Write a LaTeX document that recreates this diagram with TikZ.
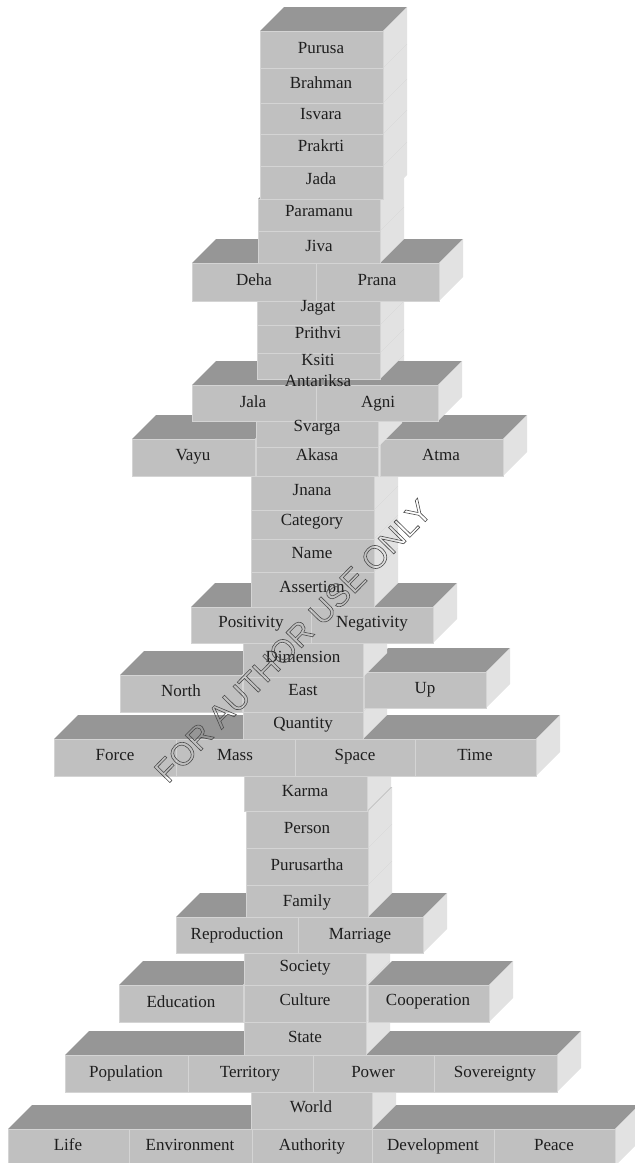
\documentclass[tikz,border=0pt]{standalone}
\usepackage{fontspec}
\setmainfont{Liberation Serif}
\newfontfamily\markfont{Liberation Sans}
\usepackage{tikz}

\definecolor{facefront}{RGB}{192,192,192}
\definecolor{facetop}{RGB}{150,150,150}
\definecolor{faceside}{RGB}{226,226,226}
\definecolor{faceedge}{RGB}{212,212,212}

% one 3D brick: front (x1,y1)-(x2,y2), top and right faces pushed back by 24
\newcommand{\brick}[4]{%
  \fill[topface] (#1,#2) -- (#1+24,#2-24) -- (#3+24,#2-24) -- (#3,#2) -- cycle;
  \fill[sideface] (#3,#2) -- (#3+24,#2-24) -- (#3+24,#4-24) -- (#3,#4) -- cycle;
  \draw[frontface] (#1,#2) rectangle (#3,#4);
}

\begin{document}
\begin{tikzpicture}[x=1pt,y=1pt,yscale=-1,
    topface/.style={fill=facetop},
    sideface/.style={fill=faceside},
    frontface/.style={fill=facefront,draw=faceedge,line width=0.8pt},
    divider/.style={draw=faceedge,line width=1pt},
    lbl/.style={inner sep=0pt,text height=0.66em,text depth=0pt,text={rgb,255:red,30;green,30;blue,30},
      font=\fontsize{17}{20}\selectfont},
    wmark/.style={inner sep=0pt,rotate=45.6,text={rgb,255:red,75;green,75;blue,75},
      font=\markfont\fontsize{32}{36}\selectfont}]
    \useasboundingbox (0,0) rectangle (635,1163);

    % painted from the bottom up, so upper bricks hide the faces behind them
    \brick{8}{1129}{615}{1166}
    \draw[divider] (129,1129) -- (129,1166);
    \draw[divider] (252,1129) -- (252,1166);
    \draw[divider] (372,1129) -- (372,1166);
    \draw[divider] (494,1129) -- (494,1166);
    \brick{251}{1092}{372}{1129}
    \brick{65}{1055}{557}{1092}
    \draw[divider] (188,1055) -- (188,1092);
    \draw[divider] (313,1055) -- (313,1092);
    \draw[divider] (434,1055) -- (434,1092);
    \brick{244}{1022}{366}{1055}
    \brick{119}{985}{243}{1022}
    \brick{244}{985}{366}{1022}
    \brick{368}{985}{489}{1022}
    \brick{244}{953}{366}{985}
    \brick{176}{917}{423}{953}
    \draw[divider] (298,917) -- (298,953);
    \brick{246}{885}{368}{917}
    \brick{246}{848}{368}{885}
    \brick{246}{811}{368}{848}
    \brick{244}{776}{367}{811}
    \brick{54}{739}{536}{776}
    \draw[divider] (176,739) -- (176,776);
    \draw[divider] (295,739) -- (295,776);
    \draw[divider] (415,739) -- (415,776);
    \brick{243}{712}{363}{739}
    \brick{120}{675}{242}{712}
    \brick{243}{677}{363}{712}
    \brick{364}{672}{486}{708}
    \brick{243}{643}{363}{677}
    \brick{191}{607}{433}{643}
    \draw[divider] (311,607) -- (311,643);
    \brick{251}{572}{374}{607}
    \brick{251}{539}{374}{572}
    \brick{251}{510}{374}{539}
    \brick{251}{476}{374}{510}
    \brick{132}{439}{255}{476}
    \brick{256}{447}{378}{476}
    \brick{380}{439}{503}{476}
    \brick{256}{421}{378}{447}
    % Antariksa sits behind the Jala/Agni brick
    \brick{257}{379}{380}{421}
    \brick{192}{385}{438}{421}
    \draw[divider] (316,385) -- (316,421);
    \brick{257}{353}{380}{379}
    \brick{257}{325}{380}{353}
    \brick{257}{301}{380}{325}
    \brick{192}{263}{439}{301}
    \draw[divider] (316,263) -- (316,301);
    \brick{258}{231}{380}{263}
    \brick{258}{199}{380}{231}
    \brick{260}{166}{383}{199}
    \brick{260}{134}{383}{166}
    \brick{260}{103}{383}{134}
    \brick{260}{68}{383}{103}
    \brick{260}{31}{383}{68}

    % only the top of this label shows above the Jala/Agni brick
    \begin{scope}
      \clip (240,360) rectangle (400,386);
      \node[lbl] (antariksa) at (318,383) {Antariksa};
    \end{scope}

    \node[lbl] (purusa) at (321,50) {Purusa};
    \node[lbl] (brahman) at (321,85) {Brahman};
    \node[lbl] (isvara) at (321,116) {Isvara};
    \node[lbl] (prakrti) at (321,148) {Prakrti};
    \node[lbl] (jada) at (321,181) {Jada};
    \node[lbl] (paramanu) at (319,213) {Paramanu};
    \node[lbl] (jiva) at (319,248) {Jiva};
    \node[lbl] (deha) at (254,282) {Deha};
    \node[lbl] (prana) at (377,282) {Prana};
    \node[lbl] (jagat) at (318,308) {Jagat};
    \node[lbl] (prithvi) at (318,335) {Prithvi};
    \node[lbl] (ksiti) at (318,362) {Ksiti};
    \node[lbl] (jala) at (253,404) {Jala};
    \node[lbl] (agni) at (378,404) {Agni};
    \node[lbl] (svarga) at (317,428) {Svarga};
    \node[lbl] (vayu) at (193,457) {Vayu};
    \node[lbl] (akasa) at (317,457) {Akasa};
    \node[lbl] (atma) at (441,457) {Atma};
    \node[lbl] (jnana) at (312,492) {Jnana};
    \node[lbl] (category) at (312,522) {Category};
    \node[lbl] (name) at (312,555) {Name};
    \node[lbl] (assertion) at (312,589) {Assertion};
    \node[lbl] (positivity) at (251,624) {Positivity};
    \node[lbl] (negativity) at (372,624) {Negativity};
    \node[lbl] (dimension) at (303,659) {Dimension};
    \node[lbl] (north) at (181,693) {North};
    \node[lbl] (east) at (303,692) {East};
    \node[lbl] (up) at (425,690) {Up};
    \node[lbl] (quantity) at (303,725) {Quantity};
    \node[lbl] (force) at (115,757) {Force};
    \node[lbl] (mass) at (235,757) {Mass};
    \node[lbl] (space) at (355,757) {Space};
    \node[lbl] (time) at (475,757) {Time};
    \node[lbl] (karma) at (305,793) {Karma};
    \node[lbl] (person) at (307,830) {Person};
    \node[lbl] (purusartha) at (307,867) {Purusartha};
    \node[lbl] (family) at (307,903) {Family};
    \node[lbl] (reproduction) at (237,936) {Reproduction};
    \node[lbl] (marriage) at (360,936) {Marriage};
    \node[lbl] (society) at (305,968) {Society};
    \node[lbl] (education) at (181,1004) {Education};
    \node[lbl] (culture) at (305,1002) {Culture};
    \node[lbl] (cooperation) at (428,1002) {Cooperation};
    \node[lbl] (state) at (305,1039) {State};
    \node[lbl] (population) at (126,1074) {Population};
    \node[lbl] (territory) at (250,1074) {Territory};
    \node[lbl] (power) at (373,1074) {Power};
    \node[lbl] (sovereignty) at (495,1074) {Sovereignty};
    \node[lbl] (world) at (311,1109) {World};
    \node[lbl] (life) at (68,1147) {Life};
    \node[lbl] (environment) at (190,1147) {Environment};
    \node[lbl] (authority) at (312,1147) {Authority};
    \node[lbl] (development) at (433,1147) {Development};
    \node[lbl] (peace) at (554,1147) {Peace};

    % outlined stamp across the middle
    \node[wmark] (stamp) at (293,641)
      {\special{pdf:literal direct 1 Tr 0.6 w}FOR AUTHOR USE ONLY\special{pdf:literal direct 0 Tr}};
\end{tikzpicture}
\end{document}
